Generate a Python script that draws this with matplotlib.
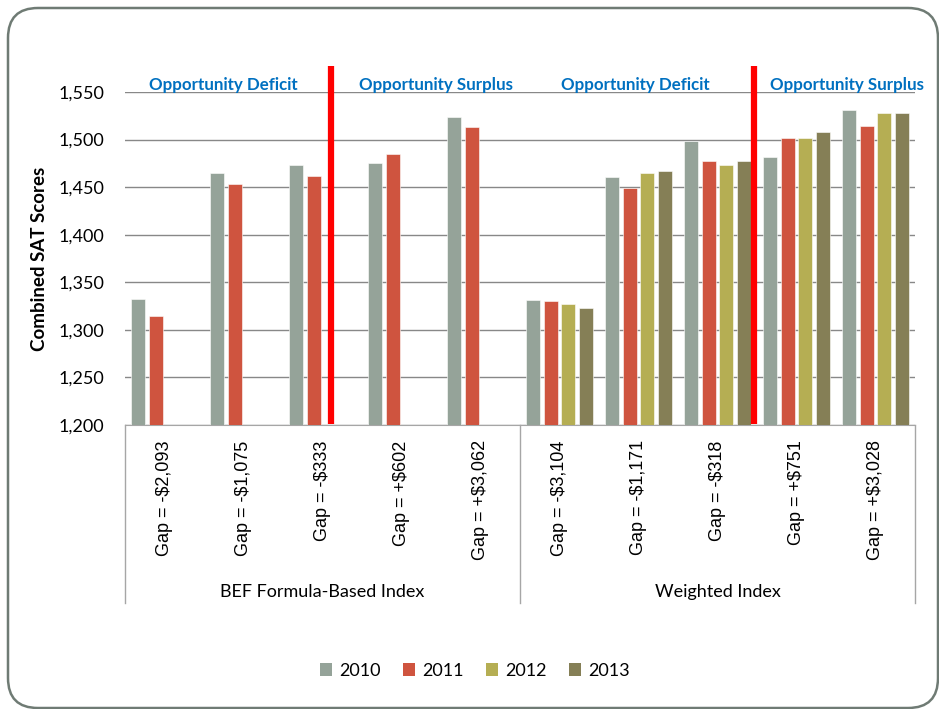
import numpy as np
import matplotlib
matplotlib.use("Agg")
import matplotlib.pyplot as plt
from matplotlib.patches import FancyBboxPatch, Patch
from matplotlib.ticker import FuncFormatter

nan = np.nan

# category labels and grouping
categories = ["Gap = -$2,093", "Gap = -$1,075", "Gap = -$333", "Gap = +$602", "Gap = +$3,062",
              "Gap = -$3,104", "Gap = -$1,171", "Gap = -$318", "Gap = +$751", "Gap = +$3,028"]
groups = ["BEF Formula-Based Index", "Weighted Index"]
years = ["2010", "2011", "2012", "2013"]

# combined SAT scores
scores_2010 = [1332, 1465, 1473, 1475, 1524, 1331, 1461, 1499, 1482, 1531]
scores_2011 = [1315, 1453, 1462, 1485, 1513, 1330, 1449, 1478, 1502, 1514]
scores_2012 = [nan, nan, nan, nan, nan, 1327, 1465, 1473, 1502, 1528]
scores_2013 = [nan, nan, nan, nan, nan, 1323, 1467, 1477, 1508, 1528]

# deficit / surplus annotations
zone_labels = ["Opportunity Deficit", "Opportunity Surplus", "Opportunity Deficit", "Opportunity Surplus"]
zone_x = [0.75, 3.44, 5.96, 8.64]
divider_x = [2.11, 7.46]

colors = ["#95A399", "#CF543F", "#B5AE53", "#857F56"]
series = [scores_2010, scores_2011, scores_2012, scores_2013]

plt.rcParams["font.family"] = ["Lato", "DejaVu Sans"]

fig = plt.figure(figsize=(9.39, 7.09), dpi=100)
ax = fig.add_axes([125 / 939, 1 - 425 / 709, 790 / 939, 333 / 709])

x = np.arange(len(categories))
step = 0.226
width = 0.177
for k, vals in enumerate(series):
    ax.bar(x + (k - 1.5) * step, np.array(vals) - 1200, bottom=1200, width=width,
           color=colors[k], edgecolor="white", linewidth=0.4, zorder=3)

ax.set_xlim(-0.5, len(categories) - 0.5)
ax.set_ylim(1200, 1550)
ax.set_yticks(np.arange(1200, 1551, 50))
ax.yaxis.set_major_formatter(FuncFormatter(lambda v, p: f"{v:,.0f}"))
ax.grid(axis="y", color="#888888", linewidth=1.0, zorder=0)
ax.set_axisbelow(True)
for s in ["top", "right", "left"]:
    ax.spines[s].set_visible(False)
ax.spines["bottom"].set_color("#A6A6A6")
ax.tick_params(axis="y", length=0, pad=15, labelsize=13)
ax.set_xticks(x)
ax.set_xticklabels(categories, rotation=90, fontsize=13, family="Liberation Sans")
ax.tick_params(axis="x", length=0, pad=11)

ax.set_ylabel("Combined SAT Scores", fontsize=13.5, fontweight="bold")
ax.yaxis.set_label_coords(-0.0975, 0.5)

# multi-level category box
for xa in [0, 0.5, 1]:
    ax.plot([xa, xa], [0, -0.5345], transform=ax.transAxes, color="#A6A6A6",
            linewidth=1, clip_on=False)
for i, g in enumerate(groups):
    fig.text((322.5 + i * 395) / 939, 1 - 592 / 709, g, ha="center", va="center", fontsize=13)

# red dividers
for dx in divider_x:
    ax.plot([dx, dx], [1201, 1577], color="#FF0000", linewidth=4.5, clip_on=False,
            solid_capstyle="butt", zorder=5)

for zx, lbl in zip(zone_x, zone_labels):
    ax.text(zx, 1552, lbl, ha="center", va="baseline", color="#0070C0",
            fontsize=12.2, fontweight="bold")

handles = [Patch(facecolor=c, edgecolor="none") for c in colors]
fig.legend(handles, years, loc="center", bbox_to_anchor=(475 / 939, 1 - 671 / 709), ncol=4,
           frameon=False, fontsize=13, handlelength=0.7, handleheight=0.7,
           handletextpad=0.4, columnspacing=1.2)

# rounded outer frame
frame = FancyBboxPatch((0.08, 0.01), 9.30, 7.00, boxstyle="round,pad=0,rounding_size=0.3",
                       transform=fig.dpi_scale_trans, facecolor="none",
                       edgecolor="#6F7B74", linewidth=1.8)
fig.patches.append(frame)

fig.savefig("out.png", dpi=100)
